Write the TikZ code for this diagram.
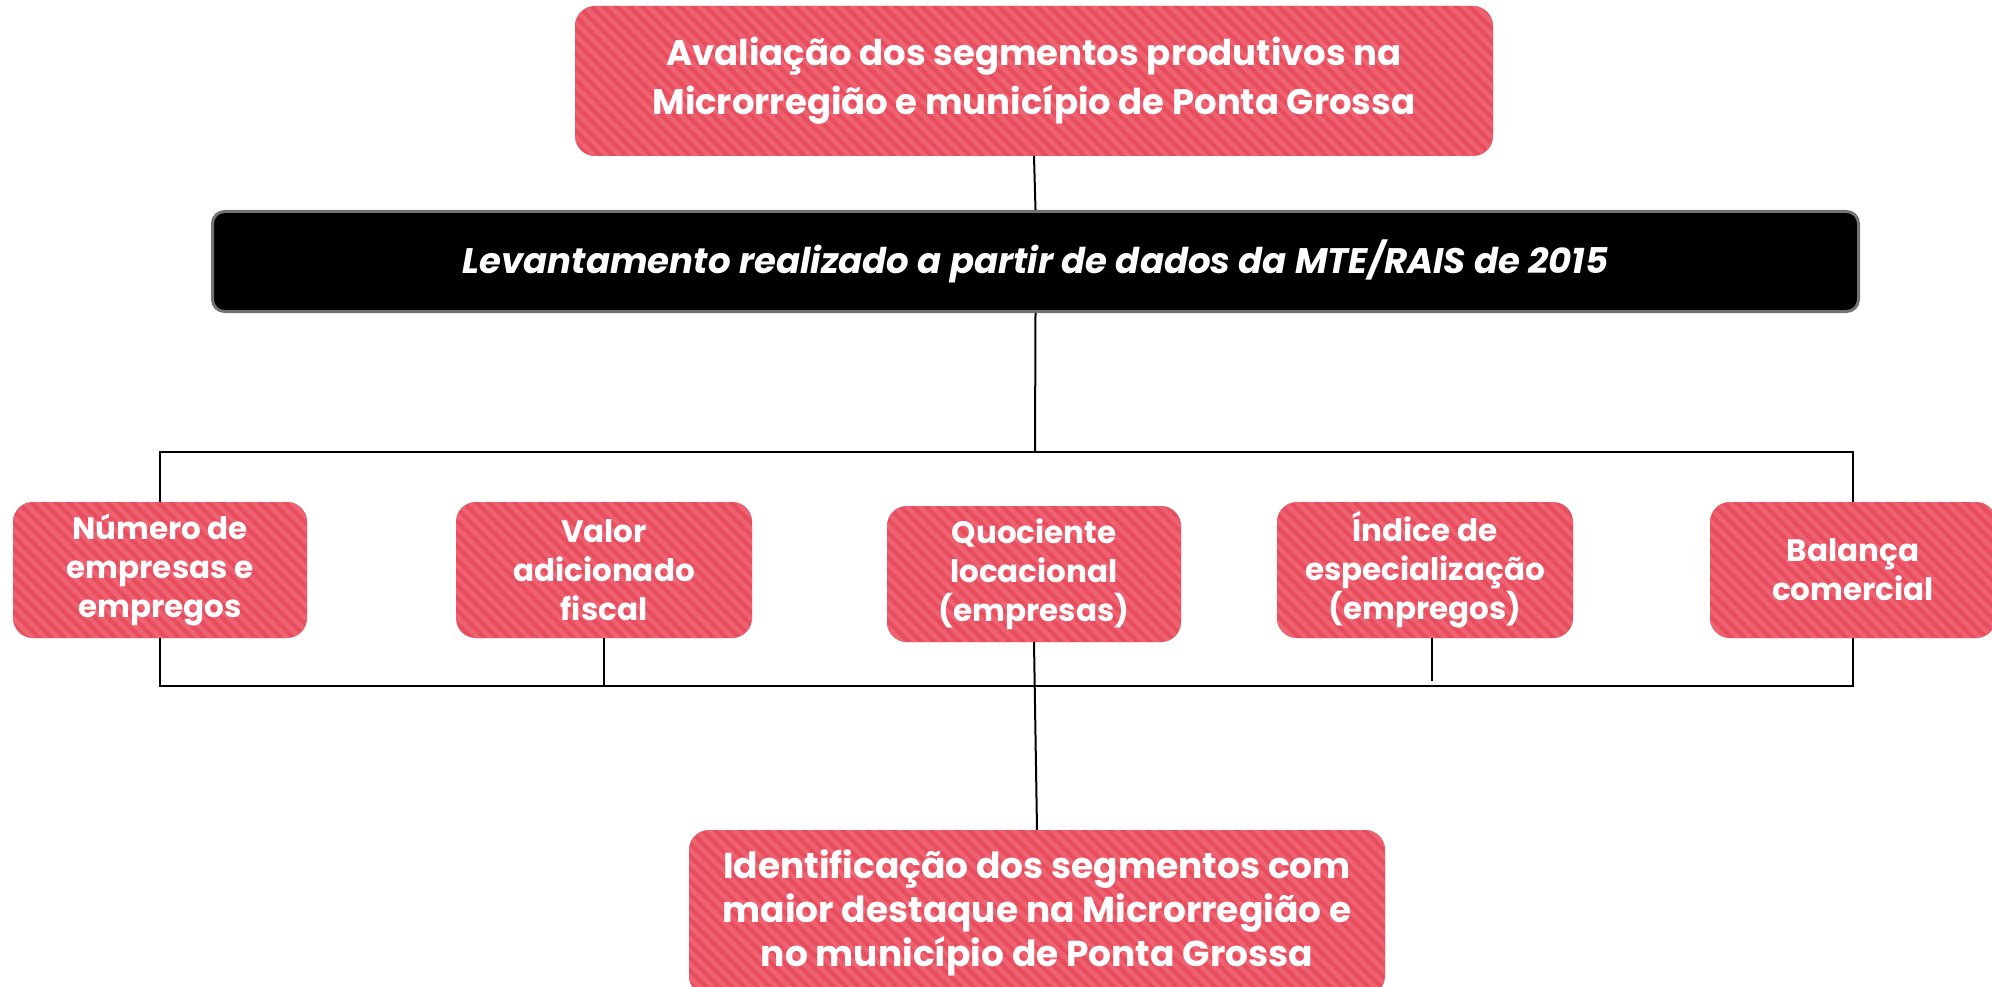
\documentclass[tikz,border=0pt]{standalone}
\usepackage{fontspec}
\setmainfont{Poppins}
\usetikzlibrary{patterns.meta}
\definecolor{boxred}{HTML}{E84D5E}
\definecolor{stripered}{HTML}{EE6271}
\tikzset{
  redbox/.style={rounded corners=20pt, fill=boxred,
    postaction={pattern={Lines[angle=-45,distance=9pt,line width=4.5pt]}, pattern color=stripered},
    text=white, align=center, inner sep=0pt},
  topfont/.style={font=\fontsize{35.5}{49}\selectfont\bfseries},
  midfont/.style={font=\fontsize{31}{39}\selectfont\bfseries},
  botfont/.style={font=\fontsize{36}{44}\selectfont\bfseries},
  blackbar/.style={rounded corners=12pt, fill=black, draw=black!55, line width=3pt,
    text=white, align=center, inner sep=0pt, font=\fontsize{35.5}{40}\selectfont\bfseries\itshape},
  conn/.style={draw=black, line width=2pt},
}
\begin{document}
\begin{tikzpicture}[x=1pt,y=-1pt]
\useasboundingbox (0,0) rectangle (1992,987);
\fill[white] (0,0) rectangle (1992,987);
\node[redbox, topfont, minimum width=918pt, minimum height=150pt] (top) at (1034,81)
  {Avaliação dos segmentos produtivos na\\Microrregião e município de Ponta Grossa};
\node[blackbar, minimum width=1646pt, minimum height=100pt] (bar) at (1035.5,261.5)
  {Levantamento realizado a partir de dados da MTE/RAIS de 2015};
\node[redbox, midfont, minimum width=294pt, minimum height=136pt] (b1) at (160,570)
  {Número de\\empresas e\\empregos};
\node[redbox, midfont, minimum width=296pt, minimum height=136pt] (b2) at (604,570)
  {Valor\\adicionado\\fiscal};
\node[redbox, midfont, minimum width=294pt, minimum height=136pt] (b3) at (1034,574)
  {Quociente\\locacional\\(empresas)};
\node[redbox, midfont, minimum width=296pt, minimum height=136pt] (b4) at (1425,570)
  {Índice de\\especialização\\(empregos)};
\node[redbox, midfont, minimum width=286pt, minimum height=136pt] (b5) at (1853,570)
  {Balança\\comercial};
\node[redbox, botfont, minimum width=696pt, minimum height=166pt] (bot) at (1037,913)
  {Identificação dos segmentos com\\maior destaque na Microrregião e\\no município de Ponta Grossa};
\coordinate (tb) at (1035,452);
\coordinate (lb) at (1035,686);
\coordinate (b4e) at (1432,681);
\draw[conn] (top.south) -- (bar.north);
\draw[conn] (bar.south) -- (tb);
\draw[conn] (b1.north) |- (tb) -| (b5.north);
\draw[conn] (b1.south) |- (lb) -| (b5.south);
\draw[conn] (b2.south) -- (b2.south |- lb);
\draw[conn] (b3.south) -- (bot.north);
\draw[conn] (b4e |- b4.south) -- (b4e);
\end{tikzpicture}
\end{document}
